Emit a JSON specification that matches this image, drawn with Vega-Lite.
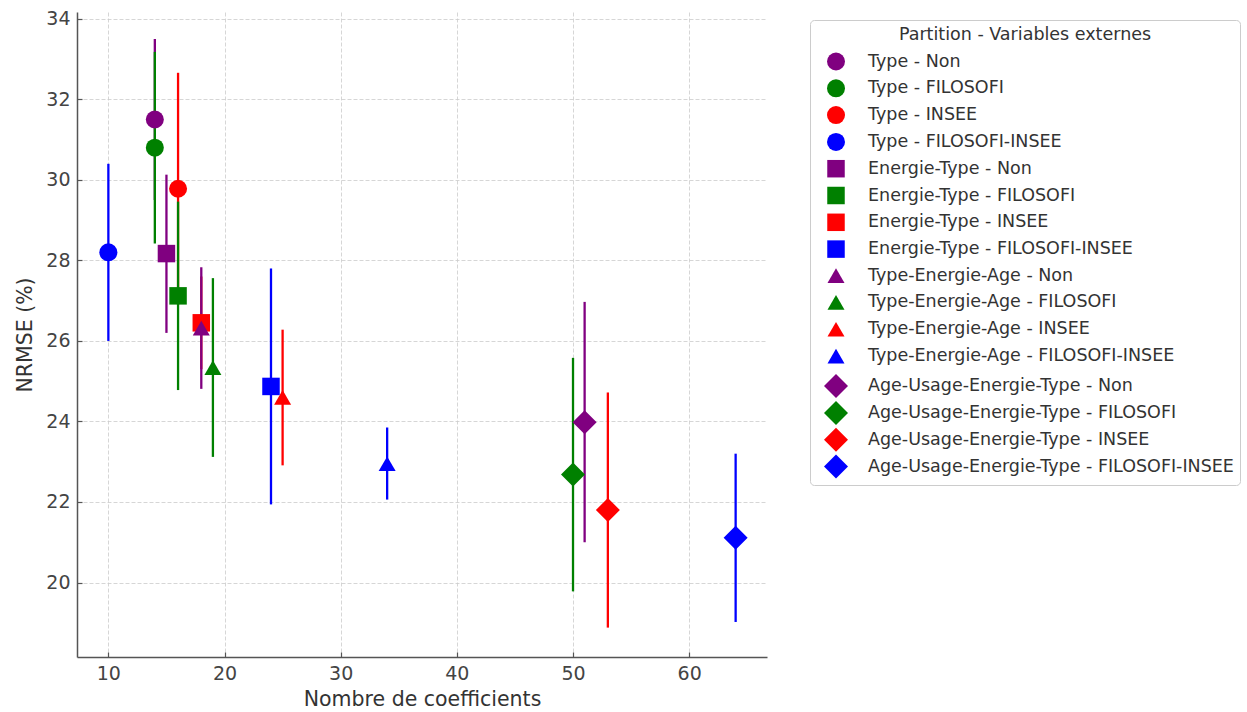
{
  "$schema": "https://vega.github.io/schema/vega-lite/v6.json",
  "width": 690,
  "height": 645,
  "autosize": "none",
  "padding": {"left": 77, "top": 12, "right": 480, "bottom": 55},
  "background": "white",
  "config": {
    "font": "DejaVu Sans",
    "view": {"stroke": null},
    "axis": {
      "domainColor": "#555555",
      "domainWidth": 1.5,
      "tickColor": "#555555",
      "tickSize": -5,
      "tickWidth": 1.2,
      "labelFont": "DejaVu Sans",
      "labelFontSize": 19,
      "labelColor": "#444444",
      "titleFont": "DejaVu Sans",
      "titleFontSize": 20.5,
      "titleFontWeight": "normal",
      "titleColor": "#333333",
      "gridColor": "#cccccc",
      "gridDash": [4, 2],
      "gridWidth": 0.8
    },
    "legend": {
      "labelFont": "DejaVu Sans",
      "titleFont": "DejaVu Sans"
    }
  },
  "data": {
    "values": [
      {"label": "Type - Non", "x": 14, "y": 31.5, "lo": 29.5, "hi": 33.5},
      {"label": "Type - FILOSOFI", "x": 14, "y": 30.8, "lo": 28.42, "hi": 33.18},
      {"label": "Type - INSEE", "x": 16, "y": 29.78, "lo": 26.9, "hi": 32.66},
      {"label": "Type - FILOSOFI-INSEE", "x": 10, "y": 28.2, "lo": 26.0, "hi": 30.4},
      {"label": "Energie-Type - Non", "x": 15, "y": 28.17, "lo": 26.2, "hi": 30.13},
      {"label": "Energie-Type - FILOSOFI", "x": 16, "y": 27.12, "lo": 24.78, "hi": 29.46},
      {"label": "Energie-Type - INSEE", "x": 18, "y": 26.45, "lo": 25.3, "hi": 27.6},
      {"label": "Energie-Type - FILOSOFI-INSEE", "x": 24, "y": 24.87, "lo": 21.94, "hi": 27.8},
      {"label": "Type-Energie-Age - Non", "x": 18, "y": 26.32, "lo": 24.81, "hi": 27.83},
      {"label": "Type-Energie-Age - FILOSOFI", "x": 19, "y": 25.34, "lo": 23.12, "hi": 27.56},
      {"label": "Type-Energie-Age - INSEE", "x": 25, "y": 24.6, "lo": 22.91, "hi": 26.28},
      {"label": "Type-Energie-Age - FILOSOFI-INSEE", "x": 34, "y": 22.95, "lo": 22.06, "hi": 23.85},
      {"label": "Age-Usage-Energie-Type - Non", "x": 51, "y": 23.98, "lo": 21.0, "hi": 26.97},
      {"label": "Age-Usage-Energie-Type - FILOSOFI", "x": 50, "y": 22.68, "lo": 19.78, "hi": 25.58},
      {"label": "Age-Usage-Energie-Type - INSEE", "x": 53, "y": 21.8, "lo": 18.88, "hi": 24.72},
      {"label": "Age-Usage-Energie-Type - FILOSOFI-INSEE", "x": 64, "y": 21.11, "lo": 19.02, "hi": 23.2}
    ]
  },
  "layer": [
    {
      "mark": {"type": "rule", "strokeWidth": 2.3},
      "encoding": {
        "x": {"field": "x", "type": "quantitative"},
        "y": {"field": "lo", "type": "quantitative"},
        "y2": {"field": "hi"},
        "color": {"field": "label", "type": "nominal"}
      }
    },
    {
      "mark": {"type": "point", "filled": true, "opacity": 1, "strokeWidth": 0},
      "encoding": {
        "x": {
          "field": "x",
          "type": "quantitative",
          "scale": {"domain": [7.3, 66.7], "nice": false, "zero": false},
          "axis": {"values": [10, 20, 30, 40, 50, 60], "title": "Nombre de coefficients", "labelPadding": 12, "titlePadding": 6}
        },
        "y": {
          "field": "y",
          "type": "quantitative",
          "scale": {"domain": [18.15, 34.17], "nice": false, "zero": false},
          "axis": {"values": [20, 22, 24, 26, 28, 30, 32, 34], "title": "NRMSE (%)", "labelPadding": 12, "titlePadding": 10}
        },
        "color": {
          "field": "label",
          "type": "nominal",
          "sort": null,
          "scale": {
            "domain": ["Type - Non", "Type - FILOSOFI", "Type - INSEE", "Type - FILOSOFI-INSEE", "Energie-Type - Non", "Energie-Type - FILOSOFI", "Energie-Type - INSEE", "Energie-Type - FILOSOFI-INSEE", "Type-Energie-Age - Non", "Type-Energie-Age - FILOSOFI", "Type-Energie-Age - INSEE", "Type-Energie-Age - FILOSOFI-INSEE", "Age-Usage-Energie-Type - Non", "Age-Usage-Energie-Type - FILOSOFI", "Age-Usage-Energie-Type - INSEE", "Age-Usage-Energie-Type - FILOSOFI-INSEE"],
            "range": ["#800080", "#008000", "#ff0000", "#0000ff", "#800080", "#008000", "#ff0000", "#0000ff", "#800080", "#008000", "#ff0000", "#0000ff", "#800080", "#008000", "#ff0000", "#0000ff"]
          },
          "legend": {
            "title": "Partition - Variables externes",
            "orient": "none",
            "legendX": 733,
            "legendY": 8,
            "fillColor": "white",
            "strokeColor": "#cccccc",
            "cornerRadius": 4,
            "padding": 6,
            "titleFontSize": 17.5,
            "titleFontWeight": "normal",
            "titleColor": "#333333",
            "titleAnchor": "middle",
            "titleLimit": 600,
            "titlePadding": 9,
            "labelFontSize": 17.5,
            "labelColor": "#333333",
            "labelLimit": 500,
            "symbolOffset": 8,
            "labelOffset": 20,
            "gridAlign": "all",
            "rowPadding": 1.8,
            "symbolStrokeWidth": 0
          }
        },
        "shape": {
          "field": "label",
          "type": "nominal",
          "sort": null,
          "scale": {
            "domain": ["Type - Non", "Type - FILOSOFI", "Type - INSEE", "Type - FILOSOFI-INSEE", "Energie-Type - Non", "Energie-Type - FILOSOFI", "Energie-Type - INSEE", "Energie-Type - FILOSOFI-INSEE", "Type-Energie-Age - Non", "Type-Energie-Age - FILOSOFI", "Type-Energie-Age - INSEE", "Type-Energie-Age - FILOSOFI-INSEE", "Age-Usage-Energie-Type - Non", "Age-Usage-Energie-Type - FILOSOFI", "Age-Usage-Energie-Type - INSEE", "Age-Usage-Energie-Type - FILOSOFI-INSEE"],
            "range": ["circle", "circle", "circle", "circle", "square", "square", "square", "square", "triangle-up", "triangle-up", "triangle-up", "triangle-up", "diamond", "diamond", "diamond", "diamond"]
          }
        },
        "size": {
          "field": "label",
          "type": "nominal",
          "sort": null,
          "scale": {
            "type": "ordinal",
            "domain": ["Type - Non", "Type - FILOSOFI", "Type - INSEE", "Type - FILOSOFI-INSEE", "Energie-Type - Non", "Energie-Type - FILOSOFI", "Energie-Type - INSEE", "Energie-Type - FILOSOFI-INSEE", "Type-Energie-Age - Non", "Type-Energie-Age - FILOSOFI", "Type-Energie-Age - INSEE", "Type-Energie-Age - FILOSOFI-INSEE", "Age-Usage-Energie-Type - Non", "Age-Usage-Energie-Type - FILOSOFI", "Age-Usage-Energie-Type - INSEE", "Age-Usage-Energie-Type - FILOSOFI-INSEE"],
            "range": [324, 324, 324, 324, 306, 306, 306, 306, 289, 289, 289, 289, 576, 576, 576, 576]
          }
        }
      }
    }
  ]
}
